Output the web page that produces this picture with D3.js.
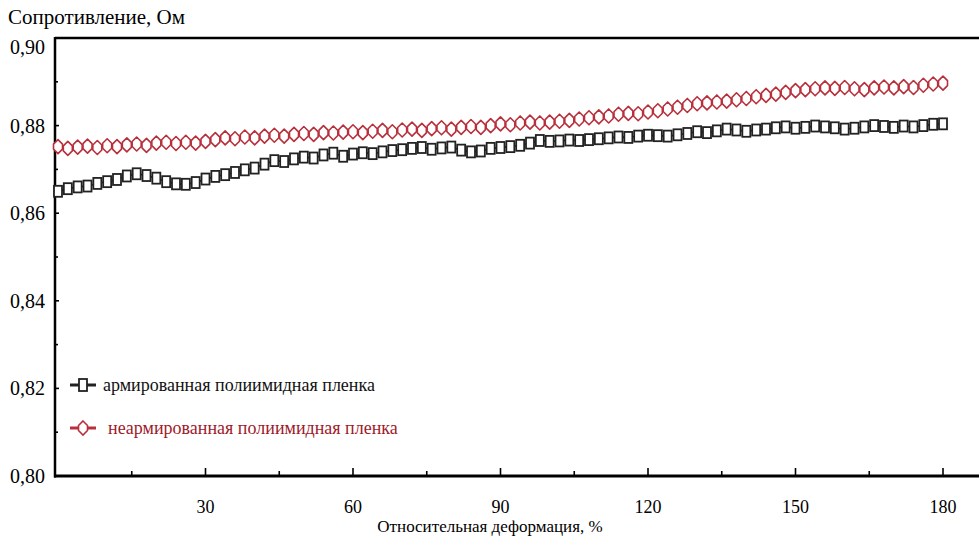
<!DOCTYPE html>
<html>
<head>
<meta charset="utf-8">
<script src="https://cdn.jsdelivr.net/npm/d3@7"></script>
<style>
  html, body { margin: 0; padding: 0; background: #fff; }
  svg { display: block; }
</style>
</head>
<body>
<svg id="chart" width="979" height="536"></svg>
<script>
/* Resistance vs relative deformation — two polyimide films */

// deformation, %, one reading every 2 %
const strain = d3.range(0, 181, 2);

// reinforced film (black squares), Ohm
const reinforced = [
  0.8650, 0.8656, 0.8660, 0.8662, 0.8668, 0.8672, 0.8677, 0.8685, 0.8690, 0.8686,
  0.8680, 0.8672, 0.8667, 0.8666, 0.8670, 0.8678, 0.8684, 0.8688, 0.8693, 0.8699,
  0.8703, 0.8712, 0.8720, 0.8718, 0.8724, 0.8728, 0.8726, 0.8733, 0.8737, 0.8730,
  0.8735, 0.8738, 0.8736, 0.8740, 0.8743, 0.8745, 0.8748, 0.8750, 0.8746, 0.8749,
  0.8751, 0.8744, 0.8740, 0.8742, 0.8748, 0.8750, 0.8752, 0.8755, 0.8760, 0.8766,
  0.8764, 0.8765, 0.8767, 0.8766, 0.8768, 0.8770, 0.8772, 0.8774, 0.8773, 0.8776,
  0.8778, 0.8777, 0.8776, 0.8779, 0.8782, 0.8786, 0.8784, 0.8788, 0.8792, 0.8790,
  0.8787, 0.8790, 0.8792, 0.8795, 0.8797, 0.8794, 0.8796, 0.8799, 0.8797, 0.8795,
  0.8792, 0.8794, 0.8797, 0.8800, 0.8798, 0.8796, 0.8799, 0.8797, 0.8800, 0.8803,
  0.8804
];

// non-reinforced film (red diamonds), Ohm
const plain = [
  0.8752, 0.8748, 0.8751, 0.8753, 0.8750, 0.8754, 0.8752, 0.8756, 0.8758, 0.8755,
  0.8760, 0.8762, 0.8759, 0.8762, 0.8760, 0.8764, 0.8768, 0.8772, 0.8770, 0.8774,
  0.8772, 0.8776, 0.8778, 0.8776, 0.8780, 0.8782, 0.8780, 0.8784, 0.8783, 0.8785,
  0.8786, 0.8784, 0.8787, 0.8789, 0.8786, 0.8790, 0.8792, 0.8789, 0.8793, 0.8795,
  0.8792, 0.8796, 0.8798, 0.8796, 0.8800, 0.8804, 0.8802, 0.8806, 0.8808, 0.8806,
  0.8808, 0.8810, 0.8812, 0.8815, 0.8818, 0.8820, 0.8822, 0.8826, 0.8828, 0.8827,
  0.8831, 0.8834, 0.8838, 0.8842, 0.8846, 0.8850, 0.8852, 0.8854, 0.8856, 0.8859,
  0.8862, 0.8866, 0.8869, 0.8872, 0.8876, 0.8880, 0.8882, 0.8884, 0.8886, 0.8885,
  0.8887, 0.8884, 0.8882, 0.8886, 0.8888, 0.8886, 0.8889, 0.8887, 0.8892, 0.8895,
  0.8897
];

const xTicks = [30, 60, 90, 120, 150, 180];
const xMinor = [15, 45, 75, 105, 135, 165];
const yTicks = [0.80, 0.82, 0.84, 0.86, 0.88, 0.90];
const yMinor = [0.81, 0.83, 0.85, 0.87, 0.89];

const legendLabels = ["армированная полиимидная пленка", "неармированная полиимидная пленка"];
const yTitle = "Сопротивление, Ом";
const xTitle = "Относительная деформация, %";

const W = 979, H = 536;
const L = 55, T = 38, B = 476;
const RED = "#b8303c", RED_TXT = "#9e1a2a";
const FONT = "Liberation Serif";

const svg = d3.select("#chart");
const x = d3.scaleLinear().domain([0, 180]).range([L + 3, 943]);
const y = d3.scaleLinear().domain([0.80, 0.90]).range([B, T]);

/* ── frame ── */
svg.append("line").attr("x1", L).attr("x2", W).attr("y1", T).attr("y2", T)
  .attr("stroke", "#000").attr("stroke-width", 2.5);
svg.append("line").attr("x1", L).attr("x2", L).attr("y1", T - 1).attr("y2", B + 1.5)
  .attr("stroke", "#000").attr("stroke-width", 2.5);
svg.append("line").attr("x1", L - 1).attr("x2", W).attr("y1", B).attr("y2", B)
  .attr("stroke", "#000").attr("stroke-width", 3);

/* ── ticks (inside) ── */
const tk = svg.append("g").attr("stroke", "#000").attr("stroke-width", 1.6);
tk.selectAll(".xmaj").data(xTicks).join("line")
  .attr("x1", d => x(d)).attr("x2", d => x(d)).attr("y1", B).attr("y2", B - 8);
tk.selectAll(".xmin").data(xMinor).join("line")
  .attr("x1", d => x(d)).attr("x2", d => x(d)).attr("y1", B).attr("y2", B - 5);
tk.selectAll(".ymaj").data(yTicks).join("line")
  .attr("x1", L).attr("x2", L + 4).attr("y1", d => y(d)).attr("y2", d => y(d));
tk.selectAll(".ymin").data(yMinor).join("line")
  .attr("x1", L).attr("x2", L + 3).attr("y1", d => y(d)).attr("y2", d => y(d));

/* ── tick labels ── */
const fmt = d => d.toFixed(2).replace(".", ",");
const topTick = d3.max(yTicks);
svg.append("g").selectAll("text").data(yTicks).join("text")
  .attr("x", 45).attr("y", d => y(d))
  .attr("dy", d => d === topTick ? "0.8em" : "0.35em")   // top label sits under the frame
  .attr("font-family", FONT).attr("text-anchor", "end").attr("font-size", 20).text(fmt);
svg.append("g").selectAll("text").data(xTicks).join("text")
  .attr("x", d => x(d)).attr("y", 513)
  .attr("font-family", FONT).attr("text-anchor", "middle").attr("font-size", 18).text(d => d);

svg.append("text").attr("x", 8).attr("y", 24).attr("font-family", FONT)
  .attr("font-size", 21).text(yTitle);
svg.append("text").attr("x", 490).attr("y", 532).attr("text-anchor", "middle")
  .attr("font-family", FONT).attr("font-size", 17).text(xTitle);

/* ── markers ── */
const diamond = "M0,-7 L4.5,-2.5 L4.5,2.5 L0,7 L-4.5,2.5 L-4.5,-2.5 Z";
const line = d3.line().x((d, i) => x(strain[i])).y(d => y(d));

function drawSeries(vals, color, shape) {
  const g = svg.append("g");
  g.append("path").datum(vals).attr("d", line)
    .attr("fill", "none").attr("stroke", color).attr("stroke-width", 1.8);
  const m = g.selectAll("g").data(vals).join("g")
    .attr("transform", (d, i) => `translate(${x(strain[i])},${y(d)})`);
  if (shape === "square") {
    m.append("rect").attr("x", -4).attr("y", -5.5).attr("width", 8).attr("height", 11)
      .attr("fill", "#fff").attr("stroke", color).attr("stroke-width", 1.8);
  } else {
    m.append("path").attr("d", diamond)
      .attr("fill", "#fff").attr("stroke", color).attr("stroke-width", 1.6)
      .attr("stroke-linejoin", "round");
  }
}
drawSeries(plain, RED, "diamond");
drawSeries(reinforced, "#222", "square");

/* ── legend ── */
const lg = svg.append("g");
[[385, "#222", "square", "#111"], [428, RED, "diamond", RED_TXT]].forEach(([ly, c, s, tc], i) => {
  lg.append("line").attr("x1", 70).attr("x2", 96).attr("y1", ly).attr("y2", ly)
    .attr("stroke", c).attr("stroke-width", 3);
  if (s === "square") {
    lg.append("rect").attr("x", 79).attr("y", ly - 6).attr("width", 8).attr("height", 12)
      .attr("fill", "#fff").attr("stroke", c).attr("stroke-width", 1.8);
  } else {
    lg.append("path").attr("d", diamond).attr("transform", `translate(83,${ly})`)
      .attr("fill", "#fff").attr("stroke", c).attr("stroke-width", 1.6);
  }
  lg.append("text").attr("x", i ? 108 : 103).attr("y", ly).attr("dy", "0.35em")
    .attr("font-family", FONT).attr("font-size", 18).attr("fill", tc).text(legendLabels[i]);
});
</script>
</body>
</html>
